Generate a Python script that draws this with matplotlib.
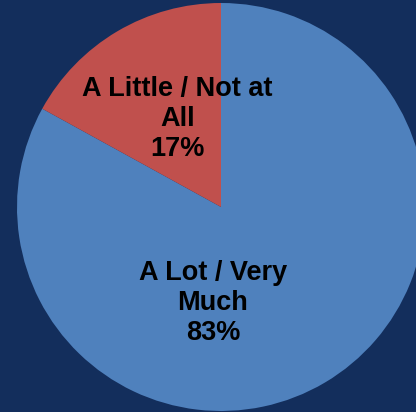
"""Pie chart: A Lot / Very Much vs A Little / Not at All."""

import matplotlib

matplotlib.use("Agg")

import matplotlib.pyplot as plt

labels = ["A Lot / Very\nMuch", "A Little / Not at\nAll"]
shares = [83, 17]
colors = ["#4F81BD", "#C0504D"]
background = "#132E5C"

# label anchor positions in axes fraction (layout only)
label_pos = [(0.512, 0.265), (0.427, 0.712)]

fig = plt.figure(figsize=(4.16, 4.12), dpi=100)
fig.patch.set_facecolor(background)
ax = fig.add_axes([0, 0, 1, 1])
ax.set_facecolor(background)

wedges, _ = ax.pie(
    shares,
    colors=colors,
    startangle=90,
    counterclock=False,
    radius=1.0,
    wedgeprops={"linewidth": 0},
)

r_px = 204
ax.set_xlim(-221 / r_px, (416 - 221) / r_px)
ax.set_ylim(-(412 - 207) / r_px, 207 / r_px)
ax.set_aspect("auto")
ax.axis("off")

for label, share, (x, y) in zip(labels, shares, label_pos):
    ax.text(
        x, y, f"{label}\n{share}%",
        transform=ax.transAxes,
        ha="center", va="center",
        fontsize=19.5, fontweight="bold",
        family=["Liberation Sans", "DejaVu Sans"],
        color="black",
        linespacing=1.2,
    )

fig.savefig("out.png", dpi=100, facecolor=background)
